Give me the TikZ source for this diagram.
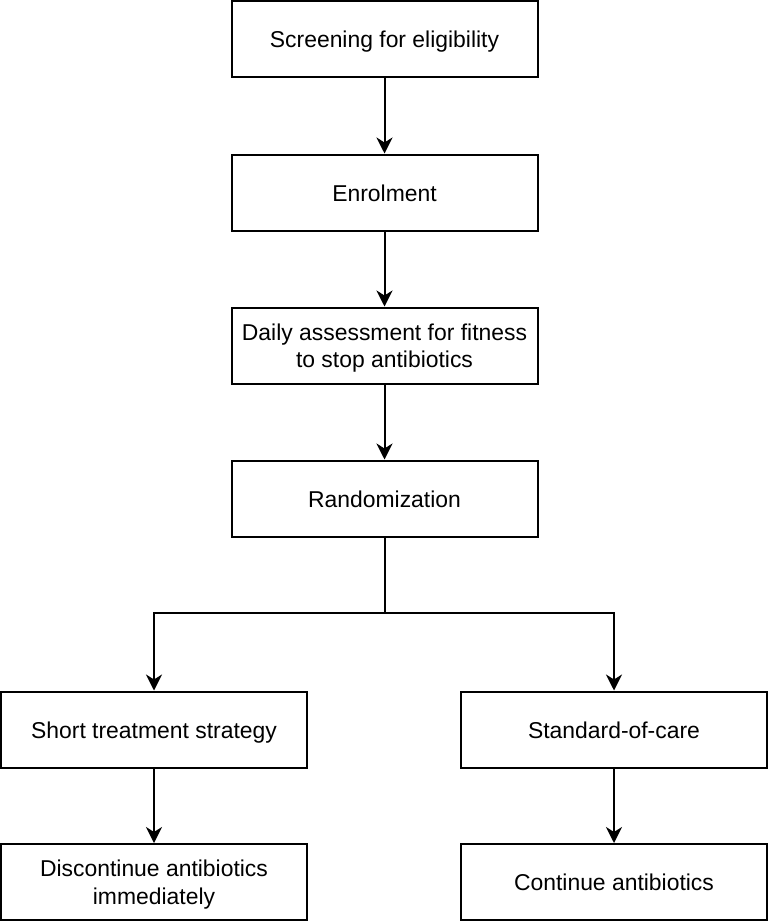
\documentclass[tikz,border=0pt]{standalone}
\usepackage{fontspec}
\setmainfont{Liberation Sans}
\usetikzlibrary{arrows.meta}
\newcommand\boxtext[1]{\raisebox{-3pt}[\height][\depth]{\begin{tabular}{@{}c@{}}#1\end{tabular}}}
\begin{document}
\begin{tikzpicture}[x=1pt,y=-1pt,
  box/.style={draw=black,line width=2pt,minimum width=306pt,minimum height=76pt,
    align=center,inner sep=0pt,font=\fontsize{22.9}{27.5}\selectfont},
  conn/.style={line width=2pt,-{Stealth[length=16pt,width=16pt,inset=5pt]}},
  plain/.style={line width=2pt}]
\useasboundingbox (0,0) rectangle (768,921);
\node[box] (scr) at (384.5,39) {\boxtext{Screening for eligibility}};
\node[box] (enr) at (384.5,192.5) {\boxtext{Enrolment}};
\node[box] (daily) at (384.5,345.5) {\boxtext{Daily assessment for fitness\\to stop antibiotics}};
\node[box] (rand) at (384.5,498.5) {\boxtext{Randomization}};
\node[box] (short) at (154,729.5) {\boxtext{Short treatment strategy}};
\node[box] (soc) at (614,729.5) {\boxtext{Standard-of-care}};
\node[box] (disc) at (154,882) {\boxtext{Discontinue antibiotics\\immediately}};
\node[box] (cont) at (614,882) {\boxtext{Continue antibiotics}};
\coordinate (split) at (384.5,613);
\draw[conn] (scr) -- (enr);
\draw[conn] (enr) -- (daily);
\draw[conn] (daily) -- (rand);
\draw[plain] (rand.south) -- (split);
\draw[conn] (split) -| (short.north);
\draw[conn] (split) -| (soc.north);
\draw[conn] (short) -- (disc);
\draw[conn] (soc) -- (cont);
\end{tikzpicture}
\end{document}
